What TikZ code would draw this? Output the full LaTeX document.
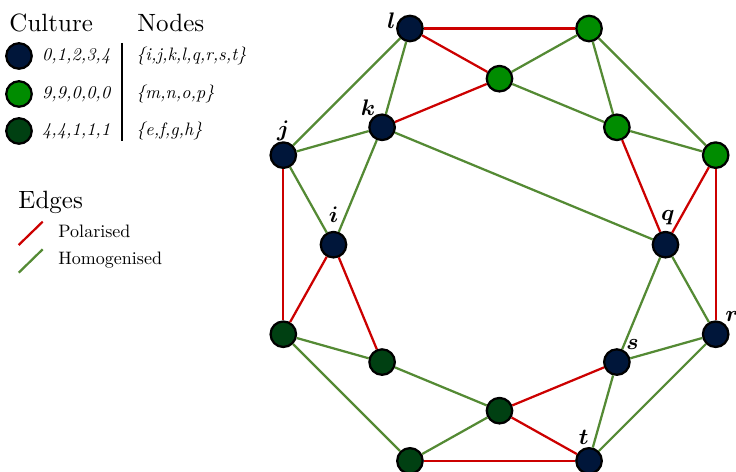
\documentclass[tikz,border=0pt]{standalone}
\usepackage{amsmath, amssymb}
\usepackage{graphicx}
\usepackage{tikz}
\usetikzlibrary{
  positioning,%
  calc
}
\definecolor{navyagent}{RGB}{0,22,58}
\definecolor{greenagent}{RGB}{0,140,0}
\definecolor{darkagent}{RGB}{0,64,18}
\definecolor{polred}{RGB}{204,0,0}
\definecolor{homgreen}{RGB}{84,138,52}
% small legend text, scaled rather than set at a small size
\newcommand{\legtext}[1]{\scalebox{0.72}{#1}}
\tikzset{>=latex}
\tikzset{font=\normalsize}
\tikzset{agent/.style={circle, draw=black, line width=0.9pt, minimum size=10.2pt, inner sep=0pt},
  pol/.style={draw=polred, line width=0.9pt},
  hom/.style={draw=homgreen, line width=0.9pt},
  lab/.style={anchor=center, inner sep=0pt, font=\small, label distance=4pt},
  vals/.style={font=\itshape, inner sep=0pt},
  names/.style={inner sep=0pt, anchor=west}}

\begin{document}
\begin{tikzpicture}[x=0.4pt, y=0.4pt]
  \useasboundingbox (-499.5,-227.3) rectangle (236.5,244.7);
  % legend: cultures
  \node[anchor=base west, inner sep=0pt] (culture) at (-490.5,212.7) {Culture};
  \node[anchor=base west, inner sep=0pt] (nodes) at (-362.5,212.7) {Nodes};
  \node[agent, fill=navyagent] (c1) at (-480.5,188.7) {};
  \node[agent, fill=greenagent] (c2) at (-480.5,150.7) {};
  \node[agent, fill=darkagent] (c3) at (-480.5,113.7) {};
  \node[vals, right=3.5pt of c1] {\legtext{0,1,2,3,4}};
  \node[vals, right=3.5pt of c2] {\legtext{9,9,0,0,0}};
  \node[vals, right=3.5pt of c3] {\legtext{4,4,1,1,1}};
  \node[vals, anchor=west] (s1) at (-363.5,188.7) {\legtext{\{i,j,k,l,q,r,s,t\}}};
  \node[vals, anchor=west] (s2) at (-363.5,150.7) {\legtext{\{m,n,o,p\}}};
  \node[vals, anchor=west] (s3) at (-363.5,113.7) {\legtext{\{e,f,g,h\}}};
  \draw[thick] (-377.5,201.7) -- (-377.5,103.7);
  % legend: edges
  \node[anchor=base west, inner sep=0pt] (edges) at (-481.5,35.7) {Edges};
  \draw[pol] (-480.8,-0.3) -- (-456.8,23);
  \node[names] (polar) at (-441.5,13) {\legtext{Polarised}};
  \draw[hom] (-480.8,-28) -- (-456.8,-4.6);
  \node[names] (homog) at (-441.5,-15.3) {\legtext{Homogenised}};
  % outer ring
  \node[agent, fill=navyagent, label={[lab, label distance=2.6pt]156:$\boldsymbol{l}$}] (l) at (112.5:234) {};
  \node[agent, fill=greenagent] (n) at (67.5:234) {};
  \node[agent, fill=greenagent] (p) at (22.5:234) {};
  \node[agent, fill=navyagent, label={[lab]47:$\boldsymbol{r}$}] (r) at (-22.5:234) {};
  \node[agent, fill=navyagent, label={[lab]103:$\boldsymbol{t}$}] (t) at (-67.5:234) {};
  \node[agent, fill=darkagent] (h) at (-112.5:234) {};
  \node[agent, fill=darkagent] (e) at (-157.5:234) {};
  \node[agent, fill=navyagent, label={[lab]90:$\boldsymbol{j}$}] (j) at (157.5:234) {};
  % inner ring
  \node[agent, fill=greenagent] (m) at (90:166) {};
  \node[agent, fill=greenagent] (o) at (45:166) {};
  \node[agent, fill=navyagent, label={[lab, label distance=5.4pt]85:$\boldsymbol{q}$}] (q) at (0:166) {};
  \node[agent, fill=navyagent, label={[lab]49:$\boldsymbol{s}$}] (s) at (-45:166) {};
  \node[agent, fill=darkagent] (g) at (-90:166) {};
  \node[agent, fill=darkagent] (f) at (-135:166) {};
  \node[agent, fill=navyagent, label={[lab, label distance=6.3pt]90:$\boldsymbol{i}$}] (i) at (180:166) {};
  \node[agent, fill=navyagent, label={[lab]126:$\boldsymbol{k}$}] (k) at (135:166) {};
  % edges
  \foreach \a/\b in {l/n, l/m, m/k, o/q, p/q, p/r, j/e, i/e, i/f, g/s, g/t, h/t}
    \draw[pol] (\a) -- (\b);
  \foreach \a/\b in {l/j, l/k, n/m, n/o, n/p, m/o, o/p, k/j, k/i, k/q,
    j/i, q/r, q/s, r/s, r/t, s/t, g/f, g/h, h/e, e/f}
    \draw[hom] (\a) -- (\b);
\end{tikzpicture}
\end{document}
